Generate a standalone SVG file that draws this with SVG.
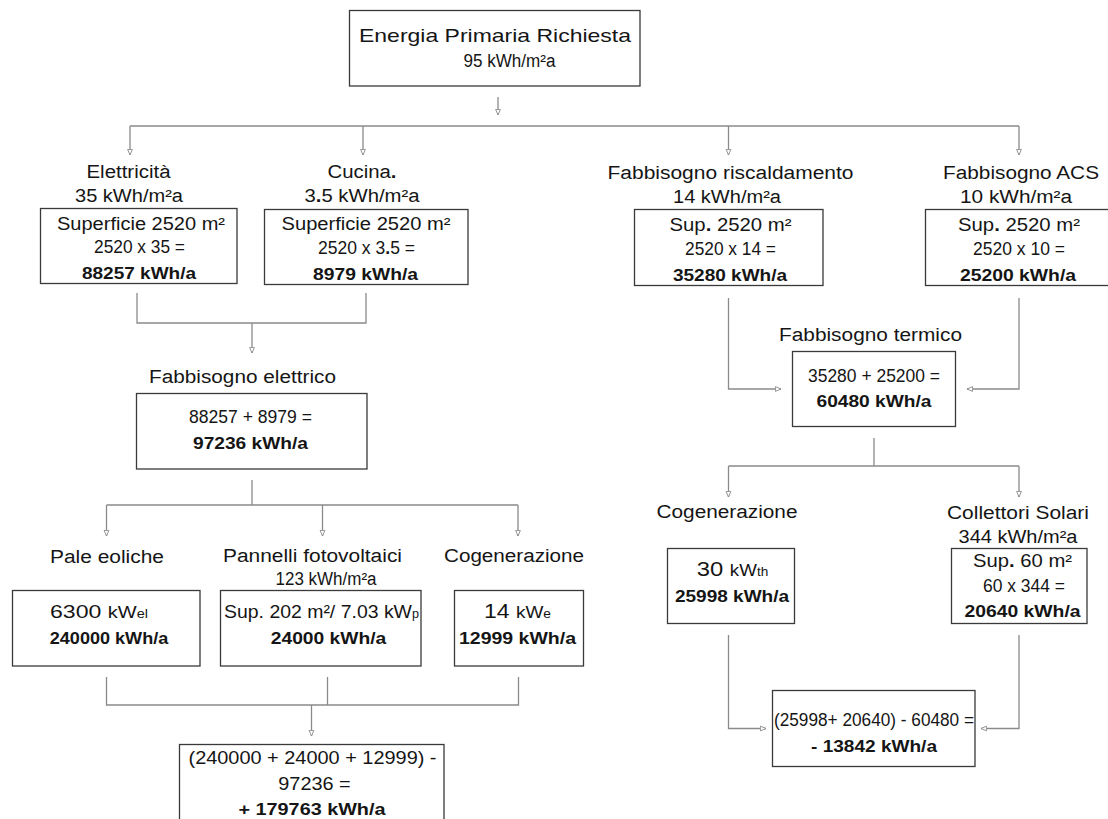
<svg xmlns="http://www.w3.org/2000/svg" width="1108" height="819" viewBox="0 0 1108 819">
  <style>
    .box { fill: #ffffff; stroke: #3a3a3a; stroke-width: 1.3; }
    .wire { fill: none; stroke: #8a8a8a; stroke-width: 1.3; }
    .arrow { marker-end: url(#ah); }
    text { font-family: "Liberation Sans", Arial, sans-serif; fill: #151515; text-anchor: middle; }
    .lbl { font-size: 18px; }
    .ttl { font-size: 19px; }
    .num { font-size: 18px; }
    .b { font-size: 17px; font-weight: bold; }
    .bd { font-weight: bold; }
  </style>
  <defs>
    <marker id="ah" markerUnits="userSpaceOnUse" markerWidth="7" markerHeight="7" viewBox="0 0 10 10" refX="9" refY="5" orient="auto">
      <path d="M1,1.6 L9,5 L1,8.4 z" fill="#ffffff" stroke="#8a8a8a" stroke-width="1.3"/>
    </marker>
  </defs>
  <rect width="1108" height="819" fill="#ffffff"/>

  <!-- connectors -->
  <g id="connectors">
    <path class="wire arrow" d="M498,97 V115"/>
    <path class="wire" d="M130,126 H1019"/>
    <path class="wire arrow" d="M130,126 V155"/>
    <path class="wire arrow" d="M363,126 V155"/>
    <path class="wire arrow" d="M728.5,126 V155"/>
    <path class="wire arrow" d="M1019,126 V155"/>

    <!-- electric demand merge -->
    <path class="wire" d="M137,293 V323 H366 V293"/>
    <path class="wire arrow" d="M252,323 V353"/>

    <!-- electric supply split -->
    <path class="wire" d="M252,480 V505"/>
    <path class="wire" d="M106.5,505 H518"/>
    <path class="wire arrow" d="M106.5,505 V536"/>
    <path class="wire arrow" d="M322.5,505 V536"/>
    <path class="wire arrow" d="M518,505 V536"/>

    <!-- electric balance merge -->
    <path class="wire" d="M106.5,677 V705 H518.5 V677"/>
    <path class="wire" d="M327.5,677 V705"/>
    <path class="wire arrow" d="M311.5,705 V736"/>

    <!-- thermal demand merge -->
    <path class="wire arrow" d="M728.5,298 V389 H781"/>
    <path class="wire arrow" d="M1019,298 V389 H967"/>

    <!-- thermal supply split -->
    <path class="wire" d="M874,438 V466"/>
    <path class="wire" d="M728.5,466 H1019"/>
    <path class="wire arrow" d="M728.5,466 V497"/>
    <path class="wire arrow" d="M1019,466 V497"/>

    <!-- thermal balance merge -->
    <path class="wire arrow" d="M728.5,635 V728.5 H766"/>
    <path class="wire arrow" d="M1019,635 V728.5 H981"/>
  </g>

  <!-- primary energy -->
  <g id="energia-primaria">
    <rect class="box" x="349.5" y="10.5" width="290.5" height="75.5"/>
    <text class="ttl" x="495" y="42" textLength="272" lengthAdjust="spacingAndGlyphs">Energia Primaria Richiesta</text>
    <text class="lbl" x="509.5" y="67" textLength="92" lengthAdjust="spacingAndGlyphs">95 kWh/m²a</text>
  </g>

  <!-- electricity -->
  <g id="elettricita">
    <text class="lbl" x="128.5" y="178" textLength="84" lengthAdjust="spacingAndGlyphs">Elettricità</text>
    <text class="lbl" x="129" y="202" textLength="108" lengthAdjust="spacingAndGlyphs">35 kWh/m²a</text>
    <rect class="box" x="40.5" y="208.5" width="196.5" height="75"/>
    <text class="lbl" x="141" y="230" textLength="168" lengthAdjust="spacingAndGlyphs">Superficie 2520 m²</text>
    <text class="num" x="139.5" y="253" textLength="91" lengthAdjust="spacingAndGlyphs">2520 x 35 =</text>
    <text class="b" x="139" y="279" textLength="114" lengthAdjust="spacingAndGlyphs">88257 kWh/a</text>
  </g>

  <!-- cooking -->
  <g id="cucina">
    <text class="lbl" x="362" y="178" textLength="69" lengthAdjust="spacingAndGlyphs">Cucina<tspan class="bd">.</tspan></text>
    <text class="lbl" x="362" y="202" textLength="115" lengthAdjust="spacingAndGlyphs">3<tspan class="bd">.</tspan>5 kWh/m²a</text>
    <rect class="box" x="264.5" y="209.5" width="203.5" height="75"/>
    <text class="lbl" x="366" y="230" textLength="169" lengthAdjust="spacingAndGlyphs">Superficie 2520 m²</text>
    <text class="num" x="366.5" y="254" textLength="97" lengthAdjust="spacingAndGlyphs">2520 x 3<tspan class="bd">.</tspan>5 =</text>
    <text class="b" x="365.5" y="279.5" textLength="105" lengthAdjust="spacingAndGlyphs">8979 kWh/a</text>
  </g>

  <!-- heating demand -->
  <g id="riscaldamento">
    <text class="lbl" x="730.5" y="179" textLength="246" lengthAdjust="spacingAndGlyphs">Fabbisogno riscaldamento</text>
    <text class="lbl" x="727" y="203" textLength="108" lengthAdjust="spacingAndGlyphs">14 kWh/m²a</text>
    <rect class="box" x="634.5" y="209.5" width="188.5" height="76"/>
    <text class="lbl" x="730.5" y="231" textLength="122" lengthAdjust="spacingAndGlyphs">Sup<tspan class="bd">.</tspan> 2520 m²</text>
    <text class="num" x="730.5" y="255" textLength="91" lengthAdjust="spacingAndGlyphs">2520 x 14 =</text>
    <text class="b" x="730" y="281" textLength="114" lengthAdjust="spacingAndGlyphs">35280 kWh/a</text>
  </g>

  <!-- hot water demand -->
  <g id="acs">
    <text class="lbl" x="1021" y="179" textLength="156" lengthAdjust="spacingAndGlyphs">Fabbisogno ACS</text>
    <text class="lbl" x="1016" y="203" textLength="112" lengthAdjust="spacingAndGlyphs">10 kWh/m²a</text>
    <rect class="box" x="925.5" y="209.5" width="188" height="76"/>
    <text class="lbl" x="1019" y="231" textLength="122" lengthAdjust="spacingAndGlyphs">Sup<tspan class="bd">.</tspan> 2520 m²</text>
    <text class="num" x="1019" y="255" textLength="92" lengthAdjust="spacingAndGlyphs">2520 x 10 =</text>
    <text class="b" x="1018" y="281" textLength="116" lengthAdjust="spacingAndGlyphs">25200 kWh/a</text>
  </g>

  <!-- electric demand -->
  <g id="fabbisogno-elettrico">
    <text class="lbl" x="242.5" y="383" textLength="187" lengthAdjust="spacingAndGlyphs">Fabbisogno elettrico</text>
    <rect class="box" x="136.5" y="393.5" width="230.5" height="75.5"/>
    <text class="num" x="250.5" y="423" textLength="123" lengthAdjust="spacingAndGlyphs">88257 + 8979 =</text>
    <text class="b" x="250.5" y="449" textLength="115" lengthAdjust="spacingAndGlyphs">97236 kWh/a</text>
  </g>

  <!-- thermal demand -->
  <g id="fabbisogno-termico">
    <text class="lbl" x="870.5" y="340.5" textLength="183" lengthAdjust="spacingAndGlyphs">Fabbisogno termico</text>
    <rect class="box" x="792.5" y="351.5" width="163" height="75"/>
    <text class="num" x="874" y="381.5" textLength="132" lengthAdjust="spacingAndGlyphs">35280 + 25200 =</text>
    <text class="b" x="874" y="407" textLength="115" lengthAdjust="spacingAndGlyphs">60480 kWh/a</text>
  </g>

  <!-- wind turbines -->
  <g id="pale-eoliche">
    <text class="lbl" x="107" y="562.5" textLength="114" lengthAdjust="spacingAndGlyphs">Pale eoliche</text>
    <rect class="box" x="12.5" y="590.5" width="187.5" height="75.5"/>
    <text x="99" y="618" textLength="98" lengthAdjust="spacingAndGlyphs"><tspan font-size="19">6300 </tspan><tspan font-size="16.5">kW</tspan><tspan font-size="12">el</tspan></text>
    <text class="b" x="109" y="644" textLength="118.5" lengthAdjust="spacingAndGlyphs">240000 kWh/a</text>
  </g>

  <!-- photovoltaic panels -->
  <g id="fotovoltaico">
    <text class="lbl" x="312.5" y="561.5" textLength="179" lengthAdjust="spacingAndGlyphs">Pannelli fotovoltaici</text>
    <text class="lbl" x="326" y="585" textLength="101" lengthAdjust="spacingAndGlyphs">123 kWh/m²a</text>
    <rect class="box" x="220.5" y="590.5" width="200.5" height="75.5"/>
    <text x="321.5" y="618" textLength="195" lengthAdjust="spacingAndGlyphs"><tspan font-size="18.5">Sup. 202 m²/ 7.03 kW</tspan><tspan font-size="12">p</tspan></text>
    <text class="b" x="328.5" y="644" textLength="115.5" lengthAdjust="spacingAndGlyphs">24000 kWh/a</text>
  </g>

  <!-- electric cogeneration -->
  <g id="cogenerazione-el">
    <text class="lbl" x="514" y="561.5" textLength="140" lengthAdjust="spacingAndGlyphs">Cogenerazione</text>
    <rect class="box" x="454.5" y="590.5" width="129" height="75.5"/>
    <text x="517.5" y="618" textLength="67" lengthAdjust="spacingAndGlyphs"><tspan font-size="20">14 </tspan><tspan font-size="16.5">kW</tspan><tspan font-size="12">e</tspan></text>
    <text class="b" x="517.5" y="644" textLength="117" lengthAdjust="spacingAndGlyphs">12999 kWh/a</text>
  </g>

  <!-- electric balance -->
  <g id="bilancio-elettrico">
    <rect class="box" x="179.5" y="744.5" width="264.5" height="90"/>
    <text class="lbl" x="312.5" y="764" textLength="248" lengthAdjust="spacingAndGlyphs">(240000 + 24000 + 12999) -</text>
    <text class="lbl" x="314.5" y="789.5" textLength="72.5" lengthAdjust="spacingAndGlyphs">97236 =</text>
    <text class="b" x="312" y="815" textLength="147" lengthAdjust="spacingAndGlyphs">+ 179763 kWh/a</text>
  </g>

  <!-- thermal cogeneration -->
  <g id="cogenerazione-th">
    <text class="lbl" x="727" y="518" textLength="141" lengthAdjust="spacingAndGlyphs">Cogenerazione</text>
    <rect class="box" x="667.5" y="548.5" width="127" height="75"/>
    <text x="732.5" y="576" textLength="71.5" lengthAdjust="spacingAndGlyphs"><tspan font-size="21">30 </tspan><tspan font-size="16.5">kW</tspan><tspan font-size="12">th</tspan></text>
    <text class="b" x="732" y="601.5" textLength="114" lengthAdjust="spacingAndGlyphs">25998 kWh/a</text>
  </g>

  <!-- solar collectors -->
  <g id="collettori-solari">
    <text class="lbl" x="1018" y="519" textLength="142" lengthAdjust="spacingAndGlyphs">Collettori Solari</text>
    <text class="lbl" x="1018" y="543" textLength="119" lengthAdjust="spacingAndGlyphs">344 kWh/m²a</text>
    <rect class="box" x="951.5" y="548.5" width="135.5" height="75"/>
    <text class="lbl" x="1022.5" y="567" textLength="99" lengthAdjust="spacingAndGlyphs">Sup<tspan class="bd">.</tspan> 60 m²</text>
    <text class="num" x="1024" y="591.5" textLength="82" lengthAdjust="spacingAndGlyphs">60 x 344 =</text>
    <text class="b" x="1022.5" y="617" textLength="116" lengthAdjust="spacingAndGlyphs">20640 kWh/a</text>
  </g>

  <!-- thermal balance -->
  <g id="bilancio-termico">
    <rect class="box" x="772.5" y="690.5" width="202.5" height="76"/>
    <text class="num" x="874" y="726" textLength="200" lengthAdjust="spacingAndGlyphs">(25998+ 20640) - 60480 =</text>
    <text class="b" x="874" y="751.5" textLength="126" lengthAdjust="spacingAndGlyphs">- 13842 kWh/a</text>
  </g>
</svg>
